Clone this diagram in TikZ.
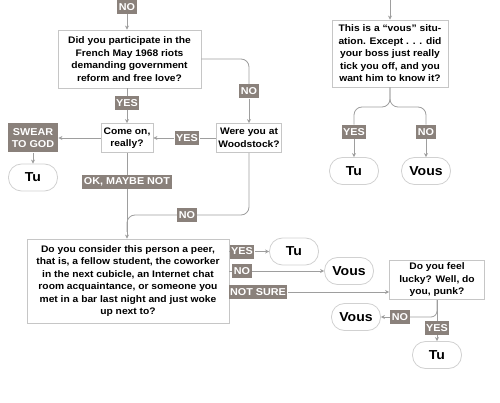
\documentclass[tikz,border=0pt]{standalone}
\usepackage{fontspec}
\setmainfont{Liberation Sans}[FakeStretch=1.08]
\usetikzlibrary{arrows.meta,positioning,calc}
\definecolor{labgray}{HTML}{8A817B}
\definecolor{linegray}{HTML}{9E9E9E}
\definecolor{boxgray}{HTML}{C6C6C6}

\begin{document}
\begin{tikzpicture}[x=1pt, y=-1pt, >={Stealth[length=4pt,width=4pt]}, line width=0.8pt]
\tikzstyle{link}=[draw=linegray]
\tikzstyle{question}=[draw=boxgray, fill=white, align=center, inner sep=2pt, font=\bfseries\fontsize{9.5}{12.5}\selectfont]
\tikzstyle{answer}=[draw=boxgray!80, fill=white, rounded corners=13pt, minimum width=49pt, minimum height=27pt, font=\bfseries\fontsize{13}{15}\selectfont]
\tikzstyle{choice}=[fill=labgray, text=white, align=center, inner sep=1.5pt, minimum height=14pt, font=\bfseries\fontsize{10}{11.5}\selectfont]
\useasboundingbox (0,0) rectangle (500,403);

% left column
\coordinate (in1) at (127,0);
\node[choice]   (no0)   at (127,7)    {NO};
\node[question, minimum width=143, minimum height=58] (q1) at (129.5,59)
  {Did you participate in the\\French May 1968 riots\\demanding government\\reform and free love?};
\node[choice]   (yes1)  at (127,103)  {YES};
\node[question, minimum width=52, minimum height=29] (come) at (127,138) {Come on,\\really?};
\node[question, minimum width=64, minimum height=29] (wood) at (249,138) {Were you at\\Woodstock?};
\node[choice]   (no1)   at (249,91.5) {NO};
\node[choice]   (yes2)  at (187,138)  {YES};
\node[choice, minimum width=50, minimum height=29] (swear) at (33,138) {SWEAR\\TO GOD};
\node[answer]   (tuA)   at (33,177.5) {Tu};
\node[choice]   (ok)    at (127,182)  {OK, MAYBE NOT};
\node[choice]   (no2)   at (187,215)  {NO};
\coordinate (merge) at (127,232);
\node[question, minimum width=202, minimum height=84] (q3) at (128,281)
  {Do you consider this person a peer,\\that is, a fellow student, the coworker\\in the next cubicle, an Internet chat\\room acquaintance, or someone you\\met in a bar last night and just woke\\up next to?};

% right of the peer question
\node[choice]   (yes3)  at (242,251.5) {YES};
\node[answer]   (tuB)   at (294,251.5) {Tu};
\node[choice]   (no3)   at (242,271)   {NO};
\node[answer]   (vousA) at (349,271)   {Vous};
\node[choice]   (notsure) at (258,292) {NOT SURE};
\node[question, minimum width=95, minimum height=39] (q4) at (437,280)
  {Do you feel\\lucky? Well, do\\you, punk?};
\node[choice]   (no4)   at (400,317)   {NO};
\node[answer]   (vousB) at (356,317)   {Vous};
\node[choice]   (yes4)  at (437,328)   {YES};
\node[answer]   (tuC)   at (437,355)   {Tu};

% top right
\coordinate (in2) at (390,0);
\node[question, minimum width=116, minimum height=67] (q2) at (390,53.5)
  {This is a “vous” situ-\\ation. Except . . . did\\your boss just really\\tick you off, and you\\want him to know it?};
\node[choice]   (yes5)  at (354,132)   {YES};
\node[choice]   (no5)   at (426,132)   {NO};
\node[answer]   (tuD)   at (354,171)   {Tu};
\node[answer]   (vousC) at (426,171)   {Vous};

\draw[link] (in1) -- (no0);
\draw[link,->] (no0) -- (no0 |- q1.north);
\draw[link] (yes1 |- q1.south) -- (yes1);
\draw[link,->] (yes1) -- (come);
\draw[link,rounded corners=8pt] (q1.east) -| (no1);
\draw[link,->] (no1) -- (wood);
\draw[link] (wood) -- (yes2);
\draw[link,->] (yes2) -- (come);
\draw[link,->] (come) -- (swear);
\draw[link,->] (swear) -- (tuA);
\draw[link] (come) -- (ok);
\draw[link,->] (ok) -- (ok |- q3.north);
\draw[link,rounded corners=8pt] (wood) |- (no2);
\draw[link,rounded corners=8pt] (no2) -| (merge);

\draw[link] (yes3 -| q3.east) -- (yes3);
\draw[link,->] (yes3) -- (tuB);
\draw[link] (no3 -| q3.east) -- (no3);
\draw[link,->] (no3) -- (vousA);
\draw[link,->] (notsure) -- (notsure -| q4.west);
\draw[link,rounded corners=6pt] (q4.south) |- (no4);
\draw[link,->] (no4) -- (vousB);
\draw[link] (q4.south) -- (yes4);
\draw[link,->] (yes4) -- (tuC);

\draw[link,->] (in2) -- (q2);
\draw[link,rounded corners=8pt] (q2.south) |- ($(yes5)+(0,-25)$) -- (yes5);
\draw[link,rounded corners=8pt] (q2.south) |- ($(no5)+(0,-25)$) -- (no5);
\draw[link,->] (yes5) -- (tuD);
\draw[link,->] (no5) -- (vousC);
\end{tikzpicture}
\end{document}
